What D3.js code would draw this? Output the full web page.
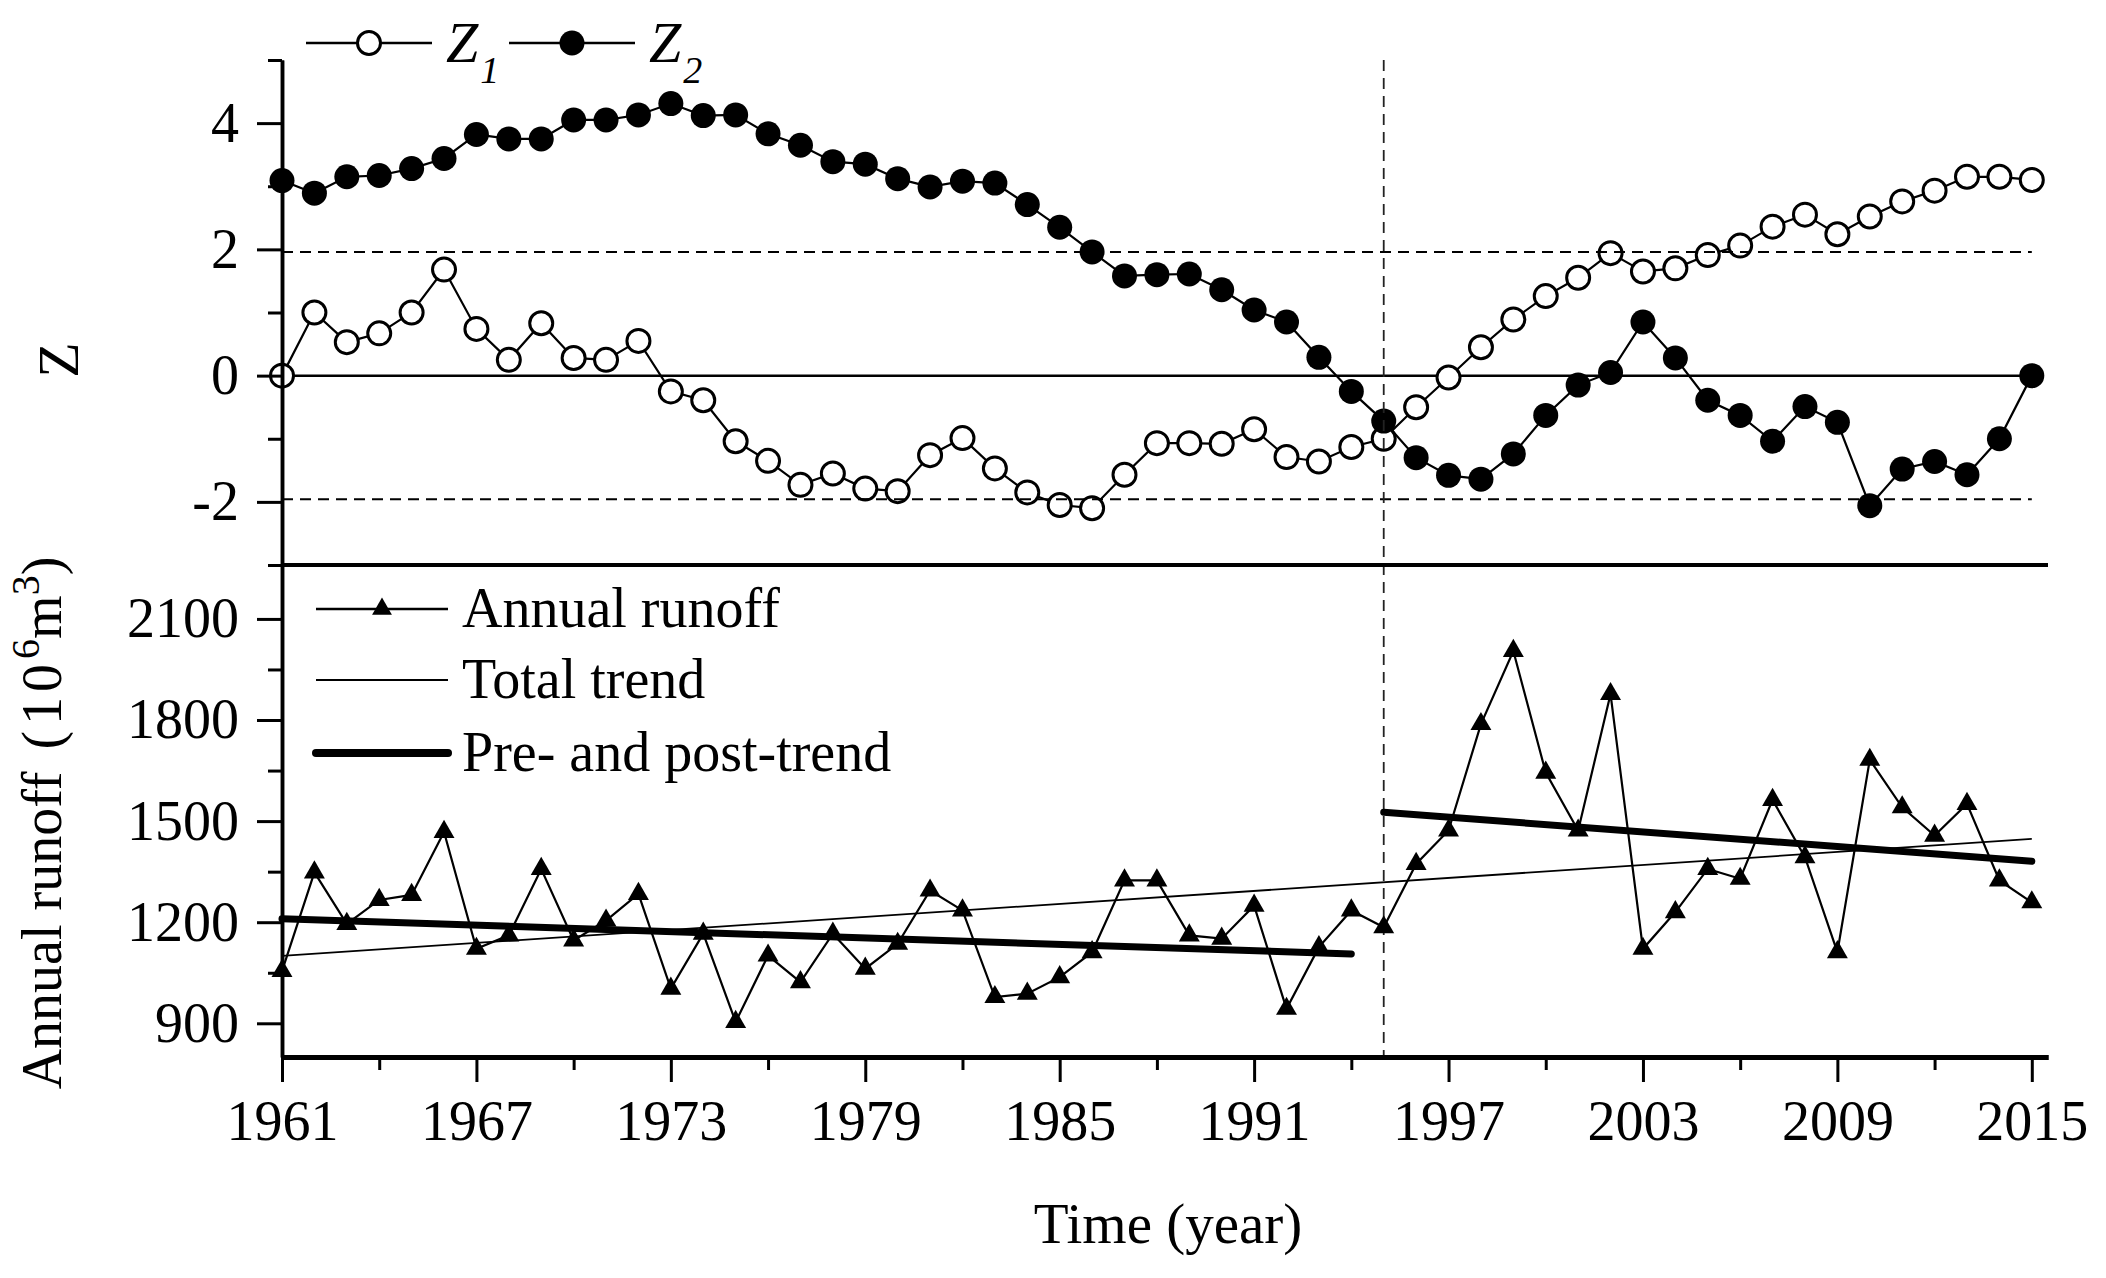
<!DOCTYPE html>
<html>
<head>
<meta charset="utf-8">
<script src="https://cdn.jsdelivr.net/npm/d3@7"></script>
<style>
  body { margin: 0; background: #fff; }
  svg text { font-family: "Liberation Serif", "Times New Roman", serif; fill: #000; }
</style>
</head>
<body>
<div id="chart"></div>
<script>
// years on the x axis
const years = d3.range(1961, 2016);
const xLabelYears = [1961, 1967, 1973, 1979, 1985, 1991, 1997, 2003, 2009, 2015];

// Mann-Kendall sequential statistics
const z1 = [0, 1.0, 0.53, 0.67, 1.0, 1.68, 0.74, 0.25, 0.83, 0.28, 0.25, 0.55, -0.25, -0.39,
  -1.04, -1.35, -1.73, -1.55, -1.79, -1.83, -1.26, -0.99, -1.47, -1.85, -2.05, -2.10, -1.57,
  -1.07, -1.07, -1.08, -0.85, -1.29, -1.36, -1.13, -1.0,
  -0.50, -0.03, 0.45, 0.89, 1.26, 1.55, 1.94, 1.65, 1.70, 1.91, 2.06, 2.36, 2.55, 2.24,
  2.52, 2.76, 2.93, 3.15, 3.15, 3.10];
const z2 = [3.09, 2.89, 3.15, 3.17, 3.28, 3.44, 3.82, 3.75, 3.75, 4.05, 4.05, 4.13, 4.31, 4.12,
  4.13, 3.83, 3.65, 3.39, 3.35, 3.12, 2.99, 3.08, 3.05, 2.71, 2.35, 1.96, 1.58, 1.60, 1.61,
  1.36, 1.04, 0.85, 0.29, -0.25, -0.72,
  -1.30, -1.58, -1.64, -1.24, -0.63, -0.15, 0.05, 0.85, 0.28, -0.39, -0.63, -1.04, -0.49,
  -0.74, -2.06, -1.48, -1.36, -1.57, -1.00, 0];

// annual runoff (10^6 m^3)
const runoff = [1055, 1348, 1195, 1266, 1281, 1468, 1121, 1161, 1358, 1146, 1205, 1284, 1003, 1166,
  904, 1101, 1022, 1166, 1062, 1136, 1294, 1235, 978, 988, 1037, 1111, 1324, 1324, 1161,
  1151, 1249, 943, 1126, 1235, 1185,
  1373, 1472, 1788, 2005, 1644, 1472, 1877, 1121, 1230, 1358, 1329, 1563, 1393, 1111,
  1682, 1541, 1457, 1551, 1324, 1259];

// trend lines, [year, value]
const totalTrend = [[1961, 1100], [2015, 1447]];
const preTrend = [[1961, 1210], [1994, 1106]];
const postTrend = [[1995, 1526], [2015, 1381]];

const changeYear = 1995;
const zCritical = 1.96;
const zMajorTicks = [-2, 0, 2, 4];
const zMinorTicks = [-3, -1, 1, 3, 5];
const rMajorTicks = [900, 1200, 1500, 1800, 2100];
const rMinorTicks = [1050, 1350, 1650, 1950];

const width = 2106, height = 1278;
const font = 56;

const svg = d3.select("#chart").append("svg")
  .attr("width", width)
  .attr("height", height);

const x = d3.scaleLinear().domain([1961, 2015.5]).range([282, 2048]);
const yZ = d3.scaleLinear().domain([-3, 5]).range([565, 60]);
const yR = d3.scaleLinear().domain([800, 2260]).range([1057, 565]);

// ---- top panel ----
const zPanel = svg.append("g");

zPanel.append("line")
  .attr("x1", x(1961)).attr("x2", x(2015))
  .attr("y1", yZ(0)).attr("y2", yZ(0))
  .attr("stroke", "#000").attr("stroke-width", 2.5);

const zLine = d3.line().x((d, i) => x(years[i])).y(d => yZ(d));

zPanel.append("path").datum(z1)
  .attr("d", zLine).attr("fill", "none")
  .attr("stroke", "#000").attr("stroke-width", 2.2);
zPanel.append("path").datum(z2)
  .attr("d", zLine).attr("fill", "none")
  .attr("stroke", "#000").attr("stroke-width", 2.2);

zPanel.selectAll("circle.z1").data(z1).join("circle")
  .attr("class", "z1")
  .attr("cx", (d, i) => x(years[i])).attr("cy", d => yZ(d))
  .attr("r", 11.5)
  .attr("fill", "#fff").attr("stroke", "#000").attr("stroke-width", 3);

// critical values ±1.96
zPanel.selectAll("line.crit").data([zCritical, -zCritical]).join("line")
  .attr("class", "crit")
  .attr("x1", x(1961)).attr("x2", x(2015))
  .attr("y1", d => yZ(d)).attr("y2", d => yZ(d))
  .attr("stroke", "#000").attr("stroke-width", 2)
  .attr("stroke-dasharray", "11,7");

// change point
svg.append("line")
  .attr("x1", x(changeYear)).attr("x2", x(changeYear))
  .attr("y1", yZ(5)).attr("y2", yR(800))
  .attr("stroke", "#222").attr("stroke-width", 1.8)
  .attr("stroke-dasharray", "11,7");

zPanel.selectAll("circle.z2").data(z2).join("circle")
  .attr("class", "z2")
  .attr("cx", (d, i) => x(years[i])).attr("cy", d => yZ(d))
  .attr("r", 12.5)
  .attr("fill", "#000");

// ---- bottom panel ----
const rPanel = svg.append("g");

const rLine = d3.line().x((d, i) => x(years[i])).y(d => yR(d));
rPanel.append("path").datum(runoff)
  .attr("d", rLine).attr("fill", "none")
  .attr("stroke", "#000").attr("stroke-width", 2.2);

rPanel.selectAll("path.tri").data(runoff).join("path")
  .attr("class", "tri")
  .attr("d", d3.symbol(d3.symbolTriangle, 190))
  .attr("transform", (d, i) => `translate(${x(years[i])},${yR(d)})`)
  .attr("fill", "#000");

const trendLine = d3.line().x(d => x(d[0])).y(d => yR(d[1]));
rPanel.append("path").datum(totalTrend)
  .attr("d", trendLine).attr("fill", "none")
  .attr("stroke", "#000").attr("stroke-width", 1.8);
[preTrend, postTrend].forEach(t => {
  rPanel.append("path").datum(t)
    .attr("d", trendLine).attr("fill", "none")
    .attr("stroke", "#000").attr("stroke-width", 7)
    .attr("stroke-linecap", "round");
});

// ---- axes ----
function styleAxis(g) {
  g.selectAll("path.domain").attr("stroke", "#000").attr("stroke-width", 3.5);
  g.selectAll(".tick line").attr("stroke", "#000").attr("stroke-width", 3);
  g.selectAll("text").attr("font-size", font).attr("font-family", null);
}

svg.append("g").attr("transform", `translate(${x(1961)},0)`)
  .call(d3.axisLeft(yZ).tickValues(zMinorTicks).tickSize(14).tickSizeOuter(0).tickFormat(""))
  .call(styleAxis);
svg.append("g").attr("transform", `translate(${x(1961)},0)`)
  .call(d3.axisLeft(yZ).tickValues(zMajorTicks).tickSize(25).tickSizeOuter(0).tickPadding(18)
    .tickFormat(d => String(d)))
  .call(styleAxis);

svg.append("g").attr("transform", `translate(${x(1961)},0)`)
  .call(d3.axisLeft(yR).tickValues(rMinorTicks).tickSize(14).tickSizeOuter(0).tickFormat(""))
  .call(styleAxis);
svg.append("g").attr("transform", `translate(${x(1961)},0)`)
  .call(d3.axisLeft(yR).tickValues(rMajorTicks).tickSize(25).tickSizeOuter(0).tickPadding(18)
    .tickFormat(d3.format("d")))
  .call(styleAxis);

const xMinor = d3.range(1961, 2016, 3).filter(y => !xLabelYears.includes(y));
svg.append("g").attr("transform", `translate(0,${yR(800)})`)
  .call(d3.axisBottom(x).tickValues(xMinor).tickSize(13).tickSizeOuter(0).tickFormat(""))
  .call(styleAxis)
  .call(g => g.select("path.domain").attr("stroke-width", 5));
svg.append("g").attr("transform", `translate(0,${yR(800)})`)
  .call(d3.axisBottom(x).tickValues(xLabelYears).tickSize(25).tickSizeOuter(0).tickPadding(18)
    .tickFormat(d3.format("d")))
  .call(styleAxis)
  .call(g => g.select("path.domain").attr("stroke-width", 5));

// separator between panels
svg.append("line")
  .attr("x1", x.range()[0]).attr("x2", x.range()[1])
  .attr("y1", yZ(-3)).attr("y2", yZ(-3))
  .attr("stroke", "#000").attr("stroke-width", 4);

// ---- axis titles ----
svg.append("text")
  .attr("x", 1168).attr("y", 1243)
  .attr("text-anchor", "middle").attr("font-size", 57)
  .text("Time (year)");

svg.append("text")
  .attr("transform", "translate(78,360) rotate(-90)")
  .attr("text-anchor", "middle").attr("font-size", 58)
  .text("Z");

const yt = svg.append("text")
  .attr("transform", "translate(61,823) rotate(-90)")
  .attr("text-anchor", "middle").attr("font-size", 56);
yt.append("tspan").text("Annual runoff");
yt.append("tspan").attr("dx", 22).text("(");
yt.append("tspan").attr("dx", 6).attr("letter-spacing", 5).text("10");
yt.append("tspan").attr("dy", -22).attr("font-size", 40).text("6");
yt.append("tspan").attr("dy", 22).text("m");
yt.append("tspan").attr("dy", -22).attr("font-size", 40).text("3");
yt.append("tspan").attr("dy", 22).text(")");

// ---- legends ----
const legZ = [
  { name: "1", x0: 306, filled: false },
  { name: "2", x0: 509, filled: true }
];
legZ.forEach(l => {
  const g = svg.append("g");
  g.append("line").attr("x1", l.x0).attr("x2", l.x0 + 126)
    .attr("y1", 43).attr("y2", 43).attr("stroke", "#000").attr("stroke-width", 2.5);
  g.append("circle").attr("cx", l.x0 + 63).attr("cy", 43)
    .attr("r", l.filled ? 12.5 : 11.5)
    .attr("fill", l.filled ? "#000" : "#fff")
    .attr("stroke", "#000").attr("stroke-width", l.filled ? 0 : 3);
  const t = g.append("text").attr("x", l.x0 + 140).attr("y", 62)
    .attr("font-size", 58).attr("font-style", "italic");
  t.append("tspan").text("Z");
  t.append("tspan").attr("dy", 21).attr("dx", 2).attr("font-size", 38).text(l.name);
});

const legR = [
  { label: "Annual runoff", y: 609, w: 2.5, marker: true },
  { label: "Total trend", y: 680, w: 2, marker: false },
  { label: "Pre- and post-trend", y: 753, w: 8, marker: false }
];
legR.forEach(l => {
  const g = svg.append("g");
  g.append("line").attr("x1", 316).attr("x2", 448)
    .attr("y1", l.y).attr("y2", l.y)
    .attr("stroke", "#000").attr("stroke-width", l.w)
    .attr("stroke-linecap", l.w > 5 ? "round" : "butt");
  if (l.marker) {
    g.append("path").attr("d", d3.symbol(d3.symbolTriangle, 170))
      .attr("transform", `translate(382,${l.y})`).attr("fill", "#000");
  }
  g.append("text").attr("x", 462).attr("y", l.y + 18)
    .attr("font-size", 56).text(l.label);
});
</script>
</body>
</html>
